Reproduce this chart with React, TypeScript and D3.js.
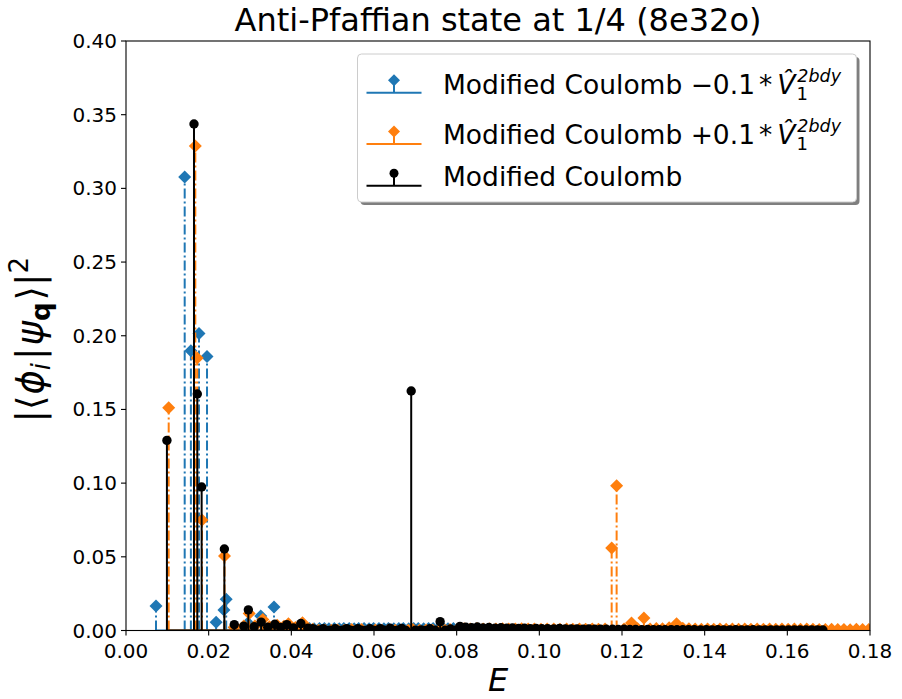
import React from "react";
import * as d3 from "d3";

// ---------- data (E, |<phi_i|psi_q>|^2) ----------
const bluePoints: [number, number][] = [
  [0.00726, 0.0166], [0.0142, 0.3077], [0.0157, 0.1899], [0.01766, 0.2016], [0.0196, 0.1859],
  [0.0218, 0.0056], [0.0237, 0.0139], [0.02424, 0.0212], [0.0262, 0.0021], [0.0295, 0.0051],
  [0.0326, 0.0098], [0.0358, 0.0159], [0.0371, 0.0014], [0.0383, 0.0012], [0.0396, 0.0013],
  [0.0407, 0.0012], [0.0419, 0.0014], [0.0432, 0.0012], [0.0444, 0.0013], [0.0455, 0.0012],
  [0.0468, 0.0013], [0.0480, 0.0014], [0.0491, 0.0012], [0.0504, 0.0013], [0.0516, 0.0012],
  [0.0527, 0.0013], [0.0540, 0.0014], [0.0552, 0.0012], [0.0563, 0.0013], [0.0576, 0.0013],
  [0.0588, 0.0012], [0.0599, 0.0013], [0.0612, 0.0014], [0.0624, 0.0012], [0.0635, 0.0013],
  [0.0648, 0.0012], [0.0660, 0.0013], [0.0671, 0.0014], [0.0684, 0.0012], [0.0696, 0.0013],
  [0.0707, 0.0013], [0.0720, 0.0012], [0.0732, 0.0013], [0.0743, 0.0014], [0.0756, 0.0012],
  [0.0768, 0.0013], [0.0779, 0.0012], [0.0792, 0.0013], [0.0804, 0.0011], [0.0812, 0.0009],
];

const orangePoints: [number, number][] = [
  [0.01033, 0.1512], [0.01677, 0.3288], [0.01723, 0.1849], [0.01839, 0.0750], [0.02383, 0.0506],
  [0.0262, 0.0022], [0.0285, 0.0030], [0.0298, 0.0115], [0.0312, 0.0030], [0.0331, 0.0075],
  [0.0347, 0.0025], [0.0366, 0.0035], [0.0382, 0.0028], [0.0393, 0.0045], [0.0410, 0.0020],
  [0.0427, 0.0052], [0.0442, 0.0010], [0.0452, 0.0008], [0.0466, 0.0002], [0.0481, 0.0003],
  [0.0497, 0.0002], [0.0512, 0.0003], [0.0528, 0.0002], [0.0546, 0.0007], [0.0559, 0.0002],
  [0.0570, 0.0007], [0.0587, 0.0002], [0.0603, 0.0003], [0.0619, 0.0002], [0.0635, 0.0003],
  [0.0651, 0.0002], [0.0667, 0.0003], [0.0683, 0.0002], [0.0694, 0.0007], [0.0710, 0.0002],
  [0.0726, 0.0003], [0.0742, 0.0002], [0.0758, 0.0003], [0.0772, 0.0002], [0.0784, 0.0007],
  [0.0802, 0.0008],
  [0.0818, 0.0012], [0.0833, 0.0010], [0.0849, 0.0013], [0.0864, 0.0011], [0.0880, 0.0012],
  [0.0895, 0.0010], [0.0911, 0.0012], [0.0926, 0.0011], [0.0942, 0.0010], [0.0957, 0.0012],
  [0.0973, 0.0010], [0.0988, 0.0011], [0.1004, 0.0009], [0.1019, 0.0011], [0.1035, 0.0010],
  [0.1050, 0.0009], [0.1066, 0.0011], [0.1081, 0.0009], [0.1097, 0.0010], [0.1112, 0.0009],
  [0.1128, 0.0010], [0.1143, 0.0009], [0.1159, 0.0010], [0.1175, 0.0560], [0.1187, 0.0982],
  [0.1205, 0.0010], [0.1223, 0.0051], [0.1238, 0.0012], [0.1253, 0.0085], [0.1268, 0.0010],
  [0.1283, 0.0014], [0.1298, 0.0012], [0.1314, 0.0018], [0.1332, 0.0045], [0.1347, 0.0016],
  [0.1362, 0.0012], [0.1377, 0.0010], [0.1392, 0.0008], [0.1407, 0.0011], [0.1422, 0.0009],
  [0.1437, 0.0010], [0.1452, 0.0008], [0.1467, 0.0011], [0.1482, 0.0009], [0.1497, 0.0010],
  [0.1512, 0.0008], [0.1527, 0.0010], [0.1542, 0.0009], [0.1557, 0.0011], [0.1572, 0.0008],
  [0.1587, 0.0010], [0.1602, 0.0009], [0.1617, 0.0010], [0.1632, 0.0008], [0.1647, 0.0011],
  [0.1662, 0.0009], [0.1677, 0.0007], [0.1692, 0.0006], [0.1707, 0.0008], [0.1722, 0.0006],
  [0.1737, 0.0007], [0.1752, 0.0005], [0.1767, 0.0008], [0.1782, 0.0006], [0.1797, 0.0007],
  [0.1812, 0.0006], [0.1830, 0.0005],
];

const blackPoints: [number, number][] = [
  [0.0099, 0.1290], [0.01645, 0.3437], [0.01725, 0.1605], [0.0183, 0.0974], [0.0238, 0.0553],
  [0.0262, 0.0040], [0.0285, 0.0030], [0.0296, 0.0140], [0.0310, 0.0025], [0.0327, 0.0057],
  [0.0343, 0.0022], [0.0360, 0.0042], [0.0374, 0.0020], [0.0389, 0.0040], [0.0405, 0.0018],
  [0.0423, 0.0047], [0.0440, 0.0016], [0.0452, 0.0013], [0.0461, 0.0002], [0.0470, 0.0003],
  [0.0477, 0.0012], [0.0485, 0.0001], [0.0494, 0.0002], [0.0506, 0.0012], [0.0515, 0.0001],
  [0.0524, 0.0002], [0.0534, 0.0013], [0.0543, 0.0002], [0.0552, 0.0001], [0.0561, 0.0012],
  [0.0570, 0.0002], [0.0580, 0.0001], [0.0590, 0.0012], [0.0598, 0.0002], [0.0606, 0.0001],
  [0.0615, 0.0013], [0.0625, 0.0002], [0.0639, 0.0015], [0.0648, 0.0001], [0.0657, 0.0002],
  [0.0667, 0.0014], [0.0677, 0.0001], [0.0690, 0.1625], [0.0700, 0.0002], [0.0714, 0.0004],
  [0.0724, 0.0001], [0.0735, 0.0012], [0.0748, 0.0002], [0.0760, 0.0060], [0.0772, 0.0002],
  [0.0785, 0.0010], [0.0797, 0.0002], [0.0808, 0.0028], [0.0822, 0.0022], [0.0836, 0.0019],
  [0.0850, 0.0024], [0.0864, 0.0017], [0.0878, 0.0020], [0.0893, 0.0016], [0.0907, 0.0019],
  [0.0921, 0.0015], [0.0935, 0.0017], [0.0950, 0.0014], [0.0964, 0.0015], [0.0978, 0.0013],
  [0.0992, 0.0014], [0.1006, 0.0012], [0.1020, 0.0013], [0.1035, 0.0011], [0.1049, 0.0014],
  [0.1063, 0.0011], [0.1077, 0.0010], [0.1091, 0.0011], [0.1106, 0.0009], [0.1120, 0.0010],
  [0.1134, 0.0008], [0.1148, 0.0009], [0.1162, 0.0008], [0.1177, 0.0008], [0.1191, 0.0007],
  [0.1205, 0.0008], [0.1219, 0.0007], [0.1233, 0.0007], [0.1248, 0.0006], [0.1262, 0.0007],
  [0.1276, 0.0006], [0.1290, 0.0006], [0.1304, 0.0005], [0.1319, 0.0006], [0.1333, 0.0005],
  [0.1347, 0.0005], [0.1361, 0.0006], [0.1375, 0.0005], [0.1390, 0.0004], [0.1404, 0.0005],
  [0.1418, 0.0004], [0.1432, 0.0005], [0.1446, 0.0004], [0.1461, 0.0004], [0.1475, 0.0005],
  [0.1489, 0.0004], [0.1503, 0.0004], [0.1517, 0.0005], [0.1532, 0.0004], [0.1546, 0.0004],
  [0.1560, 0.0003], [0.1574, 0.0004], [0.1588, 0.0004], [0.1603, 0.0003], [0.1617, 0.0004],
  [0.1631, 0.0004], [0.1645, 0.0003], [0.1659, 0.0004], [0.1673, 0.0003], [0.1686, 0.0003],
];

const xTickValues = [0, 0.02, 0.04, 0.06, 0.08, 0.1, 0.12, 0.14, 0.16, 0.18];
const yTickValues = [0, 0.05, 0.1, 0.15, 0.2, 0.25, 0.3, 0.35, 0.4];

const titleText = "Anti-Pfaffian state at 1/4 (8e32o)";
const seriesNames = ["Modified Coulomb", "Modified Coulomb", "Modified Coulomb"];

// ---------- layout ----------
const W = 902;
const H = 699;
const X0 = 126, X1 = 870, Y0 = 630.5, Y1 = 41;
const FONT = "DejaVu Sans, Liberation Sans, sans-serif";
const BLUE = "#1f77b4";
const ORANGE = "#ff7f0e";

const x = d3.scaleLinear().domain([0, 0.18]).range([X0, X1]);
const y = d3.scaleLinear().domain([0, 0.4]).range([Y0, Y1]);

const diamond = (s: number) => `M0,${-s}L${s},0L0,${s}L${-s},0Z`;

type Series = {
  pts: [number, number][];
  color: string;
  dash?: string;
  marker: "D" | "o";
};

function Stem({ s }: { s: Series }) {
  const xs = s.pts.map((p) => p[0]);
  const xmin = d3.min(xs) as number;
  const xmax = d3.max(xs) as number;
  return (
    <g>
      {s.pts.map((p, i) => (
        <line
          key={"l" + i}
          x1={x(p[0])}
          x2={x(p[0])}
          y1={y(0)}
          y2={y(p[1])}
          stroke={s.color}
          strokeWidth={2}
          strokeDasharray={s.dash}
        />
      ))}
      {s.pts.map((p, i) =>
        s.marker === "D" ? (
          <path key={"m" + i} d={diamond(6.5)} transform={`translate(${x(p[0])},${y(p[1])})`} fill={s.color} />
        ) : (
          <circle key={"m" + i} cx={x(p[0])} cy={y(p[1])} r={4.7} fill={s.color} />
        )
      )}
      <line x1={x(xmin)} x2={x(xmax)} y1={y(0)} y2={y(0)} stroke={s.color} strokeWidth={2} />
    </g>
  );
}

function LegendHandle({ cx, cy, color, marker }: { cx: number; cy: number; color: string; marker: "D" | "o" }) {
  return (
    <g>
      <line x1={cx - 27.5} x2={cx + 27.5} y1={cy} y2={cy} stroke={color} strokeWidth={2} />
      <line x1={cx} x2={cx} y1={cy} y2={cy - 12} stroke={color} strokeWidth={2} />
      {marker === "D" ? (
        <path d={diamond(6)} transform={`translate(${cx},${cy - 12.5})`} fill={color} />
      ) : (
        <circle cx={cx} cy={cy - 12.5} r={4.5} fill={color} />
      )}
    </g>
  );
}

function MathLabel({ xPos, yPos, name, sign }: { xPos: number; yPos: number; name: string; sign?: string }) {
  return (
    <text x={xPos} y={yPos} fontSize={26.5} fontFamily={FONT} fill="#000">
      {name}
      {sign && (
        <>
          <tspan>{" " + sign + "0.1"}</tspan>
          <tspan dx={4}>*</tspan>
          <tspan dx={5} fontStyle="italic">{"V\u0302"}</tspan>
          <tspan fontSize={18} dx={1} dy={6}>1</tspan>
          <tspan fontSize={17.5} dx={-10.5} dy={-17.5} fontStyle="italic">2bdy</tspan>
        </>
      )}
    </text>
  );
}

export default function App() {
  const series: Series[] = [
    { pts: bluePoints, color: BLUE, dash: "10,3,2,3", marker: "D" },
    { pts: orangePoints, color: ORANGE, dash: "10,3,2,3", marker: "D" },
    { pts: blackPoints, color: "#000", marker: "o" },
  ];
  const fmt = d3.format(".2f");
  return (
    <svg width={W} height={H} style={{ position: "absolute", left: 0, top: 0, background: "#fff" }}>
      <defs>
        <clipPath id="plotClip">
          <rect x={X0} y={Y1} width={X1 - X0} height={Y0 - Y1} />
        </clipPath>
      </defs>
      <rect x={0} y={0} width={W} height={H} fill="#fff" />
      <g clipPath="url(#plotClip)">
        {series.map((s, i) => (
          <Stem key={i} s={s} />
        ))}
      </g>
      {/* spines */}
      <rect x={X0} y={Y1} width={X1 - X0} height={Y0 - Y1} fill="none" stroke="#000" strokeWidth={1.1} />
      {/* x ticks */}
      {xTickValues.map((t) => (
        <g key={"xt" + t}>
          <line x1={x(t)} x2={x(t)} y1={Y0} y2={Y0 + 5} stroke="#000" strokeWidth={1.1} />
          <text x={x(t)} y={Y0 + 27} textAnchor="middle" fontSize={20} fontFamily={FONT}>
            {fmt(t)}
          </text>
        </g>
      ))}
      {/* y ticks */}
      {yTickValues.map((t) => (
        <g key={"yt" + t}>
          <line x1={X0 - 5} x2={X0} y1={y(t)} y2={y(t)} stroke="#000" strokeWidth={1.1} />
          <text x={X0 - 9} y={y(t) + 7} textAnchor="end" fontSize={20} fontFamily={FONT}>
            {fmt(t)}
          </text>
        </g>
      ))}
      {/* title */}
      <text x={(X0 + X1) / 2} y={31} textAnchor="middle" fontSize={32} fontFamily={FONT}>
        {titleText}
      </text>
      {/* x label */}
      <text x={(X0 + X1) / 2} y={691} textAnchor="middle" fontSize={32} fontFamily={FONT} fontStyle="italic">
        E
      </text>
      {/* y label */}
      <text transform={`translate(43,${(Y0 + Y1) / 2 + 4}) rotate(-90)`} textAnchor="middle" fontSize={37} fontFamily={FONT}>
        {"|⟨"}
        <tspan dx={1} fontStyle="italic">ϕ</tspan>
        <tspan fontSize={26} dy={7} fontStyle="italic">i</tspan>
        <tspan dx={3} dy={-7}>|</tspan>
        <tspan dx={2} fontStyle="italic">ψ</tspan>
        <tspan fontSize={26} dy={7} fontWeight="bold">q</tspan>
        <tspan dx={2} dy={-7}>{"⟩|"}</tspan>
        <tspan fontSize={26} dy={-15}>2</tspan>
      </text>
      {/* legend */}
      <g>
        <rect x={360.5} y={57} width={499} height={148} rx={4} fill="#000" opacity={0.5} />
        <rect x={357.5} y={54} width={499} height={148} rx={4} fill="#fff" stroke="#cccccc" strokeWidth={1} />
        <LegendHandle cx={394} cy={92.7} color={BLUE} marker="D" />
        <LegendHandle cx={394} cy={144} color={ORANGE} marker="D" />
        <LegendHandle cx={394} cy={185.7} color="#000" marker="o" />
        <MathLabel xPos={443} yPos={93.5} name={seriesNames[0]} sign={"\u2212"} />
        <MathLabel xPos={443} yPos={143.5} name={seriesNames[1]} sign={"+"} />
        <MathLabel xPos={443} yPos={186} name={seriesNames[2]} />
      </g>
    </svg>
  );
}
